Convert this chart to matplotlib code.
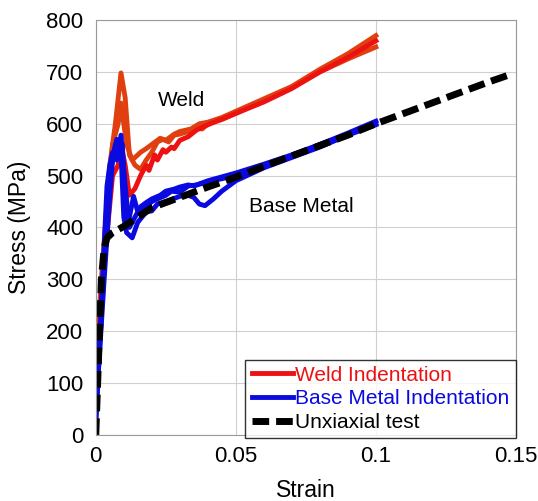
import matplotlib.pyplot as plt

plt.rcParams['font.family'] = ['Liberation Sans', 'DejaVu Sans']

# Weld indentation curves (strain, stress MPa)
weld1_x = [0, 0.002, 0.005, 0.007, 0.009, 0.0105, 0.012, 0.014, 0.016, 0.018, 0.02, 0.022,
           0.024, 0.026, 0.028, 0.03, 0.033, 0.035, 0.038, 0.04, 0.045, 0.05, 0.06, 0.07,
           0.08, 0.09, 0.1]
weld1_y = [130, 300, 520, 600, 698, 650, 540, 520, 512, 530, 545, 565,
           570, 565, 578, 580, 585, 592, 590, 600, 608, 620, 645, 670,
           700, 725, 748]
weld2_x = [0, 0.003, 0.006, 0.008, 0.009, 0.011, 0.013, 0.016, 0.018, 0.02, 0.023, 0.025,
           0.028, 0.03, 0.034, 0.037, 0.04, 0.045, 0.05, 0.06, 0.07, 0.08, 0.09, 0.1]
weld2_y = [120, 350, 560, 600, 640, 560, 530, 545, 552, 560, 572, 568,
           580, 585, 590, 600, 603, 612, 624, 648, 672, 705, 735, 770]
weld3_x = [0, 0.003, 0.006, 0.008, 0.009, 0.0105, 0.012, 0.014, 0.016, 0.018, 0.019, 0.021,
           0.022, 0.024, 0.025, 0.027, 0.028, 0.03, 0.033, 0.036, 0.04, 0.05, 0.06, 0.07,
           0.08, 0.09, 0.1]
weld3_y = [110, 330, 500, 520, 560, 520, 462, 475, 500, 520, 510, 540,
           530, 550, 545, 555, 552, 568, 575, 588, 598, 620, 642, 668,
           700, 728, 760]

# Base metal indentation curves
base1_x = [0, 0.002, 0.004, 0.005, 0.006, 0.0075, 0.009, 0.0105, 0.012, 0.014, 0.016, 0.018,
           0.02, 0.023, 0.025, 0.028, 0.03, 0.033, 0.035, 0.04, 0.05, 0.06, 0.07, 0.08,
           0.09, 0.1]
base1_y = [20, 250, 480, 520, 545, 530, 578, 480, 400, 420, 440, 448,
           455, 462, 470, 474, 478, 482, 480, 490, 505, 522, 540, 560,
           580, 600]
base2_x = [0, 0.003, 0.005, 0.007, 0.009, 0.01, 0.011, 0.013, 0.015, 0.018, 0.02, 0.022,
           0.026, 0.03, 0.033, 0.035, 0.037, 0.039, 0.042, 0.045, 0.05, 0.06, 0.07, 0.08,
           0.09, 0.1]
base2_y = [30, 330, 500, 560, 545, 420, 390, 380, 410, 430, 432, 445,
           452, 460, 462, 458, 445, 442, 455, 470, 490, 515, 535, 555,
           578, 598]
base3_x = [0, 0.003, 0.005, 0.006, 0.0075, 0.0095, 0.0105, 0.012, 0.0135, 0.015, 0.018, 0.02,
           0.022, 0.025, 0.027, 0.03, 0.033, 0.036, 0.04, 0.05, 0.06, 0.07, 0.08, 0.09,
           0.1]
base3_y = [40, 300, 460, 530, 570, 560, 440, 420, 460, 430, 440, 450,
           455, 462, 470, 468, 480, 482, 488, 500, 518, 538, 560, 582,
           605]

# Uniaxial tensile test
uni_x = [0, 0.001, 0.002, 0.003, 0.004, 0.006, 0.01, 0.015, 0.02, 0.03, 0.04, 0.05, 0.06,
         0.07, 0.08, 0.09, 0.1, 0.11, 0.12, 0.13, 0.14, 0.148]
uni_y = [0, 150, 300, 360, 380, 390, 402, 420, 438, 458, 478, 497, 518,
         538, 558, 578, 600, 620, 640, 660, 680, 695]

fig = plt.figure(figsize=(5.38, 5.01), dpi=100)
ax = fig.add_axes([0.178, 0.132, 0.781, 0.828])

orange = '#e04010'
red = '#ee1111'
blue = '#0a0ae0'

ax.plot(weld1_x, weld1_y, color=orange, lw=3.5)
ax.plot(weld2_x, weld2_y, color=orange, lw=3.5)
ax.plot(weld3_x, weld3_y, color=red, lw=3.5, label='Weld Indentation')
ax.plot(base1_x, base1_y, color=blue, lw=3.5)
ax.plot(base2_x, base2_y, color=blue, lw=3.5)
ax.plot(base3_x, base3_y, color=blue, lw=3.5, label='Base Metal Indentation')
ax.plot(uni_x, uni_y, color='black', lw=5, ls=(0, (2.4, 1.0)), label='Unxiaxial test')

ax.text(0.0221, 634, 'Weld', fontsize=15)
ax.text(0.0546, 430, 'Base Metal', fontsize=15)

ax.set_xlim(0, 0.15)
ax.set_ylim(0, 800)
ax.set_xticks([0, 0.05, 0.1, 0.15])
ax.set_xticklabels(['0', '0.05', '0.1', '0.15'])
ax.set_yticks(range(0, 801, 100))
ax.tick_params(axis='x', length=0, labelsize=16, pad=8)
ax.tick_params(axis='y', length=0, labelsize=16, pad=9)
ax.grid(True, color='#d0d0d0', lw=0.8)
for s in ax.spines.values():
    s.set_color('#999999')
ax.set_xlabel('Strain', fontsize=16.5, labelpad=9)
ax.set_ylabel('Stress (MPa)', fontsize=16.5, labelpad=11)

leg = ax.legend(loc='lower right', fontsize=15, frameon=True, fancybox=False,
                handlelength=2.0, handletextpad=0.1, borderpad=0.3, labelspacing=0.22,
                bbox_to_anchor=(1.0, -0.008), borderaxespad=0)
leg.get_frame().set_edgecolor('black')
leg.get_frame().set_linewidth(1)
for t, c in zip(leg.get_texts(), [red, blue, 'black']):
    t.set_color(c)

fig.savefig('out.png', dpi=100)
